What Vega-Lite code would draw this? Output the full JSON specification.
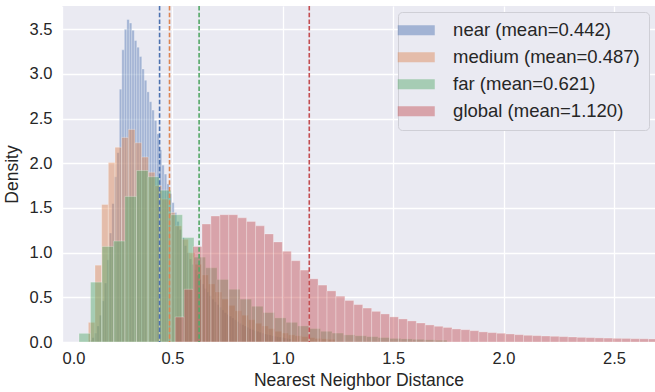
{
  "$schema": "https://vega.github.io/schema/vega-lite/v6.json",
  "autosize": "none",
  "width": 593,
  "height": 336,
  "padding": {"left": 62, "top": 6, "right": 0, "bottom": 50},
  "background": "white",
  "datasets": {
    "bars": [
      {"s":"near","a":0.1241,"b":0.1354,"d":0.02},
      {"s":"near","a":0.1354,"b":0.1467,"d":0.05},
      {"s":"near","a":0.1467,"b":0.1580,"d":0.10},
      {"s":"near","a":0.1580,"b":0.1693,"d":0.18},
      {"s":"near","a":0.1693,"b":0.1806,"d":0.30},
      {"s":"near","a":0.1806,"b":0.1919,"d":0.46},
      {"s":"near","a":0.1919,"b":0.2032,"d":0.66},
      {"s":"near","a":0.2032,"b":0.2145,"d":0.92},
      {"s":"near","a":0.2145,"b":0.2258,"d":1.22},
      {"s":"near","a":0.2258,"b":0.2371,"d":1.55},
      {"s":"near","a":0.2371,"b":0.2484,"d":1.85},
      {"s":"near","a":0.2484,"b":0.2597,"d":2.12},
      {"s":"near","a":0.2597,"b":0.2710,"d":2.83},
      {"s":"near","a":0.2710,"b":0.2823,"d":3.27},
      {"s":"near","a":0.2823,"b":0.2936,"d":3.50},
      {"s":"near","a":0.2936,"b":0.3049,"d":3.61},
      {"s":"near","a":0.3049,"b":0.3162,"d":3.57},
      {"s":"near","a":0.3162,"b":0.3275,"d":3.49},
      {"s":"near","a":0.3275,"b":0.3388,"d":3.375},
      {"s":"near","a":0.3388,"b":0.3501,"d":3.30},
      {"s":"near","a":0.3501,"b":0.3614,"d":3.195},
      {"s":"near","a":0.3614,"b":0.3727,"d":3.056},
      {"s":"near","a":0.3727,"b":0.3840,"d":2.93},
      {"s":"near","a":0.3840,"b":0.3953,"d":2.80},
      {"s":"near","a":0.3953,"b":0.4066,"d":2.69},
      {"s":"near","a":0.4066,"b":0.4179,"d":2.596},
      {"s":"near","a":0.4179,"b":0.4292,"d":2.48},
      {"s":"near","a":0.4292,"b":0.4405,"d":2.33},
      {"s":"near","a":0.4405,"b":0.4518,"d":2.15},
      {"s":"near","a":0.4518,"b":0.4631,"d":1.98},
      {"s":"near","a":0.4631,"b":0.4744,"d":1.88},
      {"s":"near","a":0.4744,"b":0.4857,"d":1.77},
      {"s":"near","a":0.4857,"b":0.4970,"d":1.66},
      {"s":"near","a":0.4970,"b":0.5083,"d":1.56},
      {"s":"near","a":0.5083,"b":0.5196,"d":1.45},
      {"s":"near","a":0.5196,"b":0.5309,"d":1.35},
      {"s":"near","a":0.5309,"b":0.5422,"d":1.26},
      {"s":"near","a":0.5422,"b":0.5535,"d":1.17},
      {"s":"near","a":0.5535,"b":0.5648,"d":1.08},
      {"s":"near","a":0.5648,"b":0.5761,"d":1.00},
      {"s":"near","a":0.5761,"b":0.5874,"d":0.93},
      {"s":"near","a":0.5874,"b":0.5987,"d":0.87},
      {"s":"near","a":0.5987,"b":0.6100,"d":0.81},
      {"s":"near","a":0.6100,"b":0.6213,"d":0.75},
      {"s":"near","a":0.6213,"b":0.6326,"d":0.70},
      {"s":"near","a":0.6326,"b":0.6439,"d":0.65},
      {"s":"near","a":0.6439,"b":0.6552,"d":0.60},
      {"s":"near","a":0.6552,"b":0.6665,"d":0.56},
      {"s":"near","a":0.6665,"b":0.6778,"d":0.52},
      {"s":"near","a":0.6778,"b":0.6891,"d":0.48},
      {"s":"near","a":0.6891,"b":0.7004,"d":0.45},
      {"s":"near","a":0.7004,"b":0.7117,"d":0.42},
      {"s":"near","a":0.7117,"b":0.7230,"d":0.39},
      {"s":"near","a":0.7230,"b":0.7343,"d":0.36},
      {"s":"near","a":0.7343,"b":0.7456,"d":0.33},
      {"s":"near","a":0.7456,"b":0.7569,"d":0.31},
      {"s":"near","a":0.7569,"b":0.7682,"d":0.29},
      {"s":"near","a":0.7682,"b":0.7795,"d":0.27},
      {"s":"near","a":0.7795,"b":0.7908,"d":0.25},
      {"s":"near","a":0.7908,"b":0.8021,"d":0.23},
      {"s":"near","a":0.8021,"b":0.8134,"d":0.21},
      {"s":"near","a":0.8134,"b":0.8247,"d":0.195},
      {"s":"near","a":0.8247,"b":0.8360,"d":0.18},
      {"s":"near","a":0.8360,"b":0.8473,"d":0.165},
      {"s":"near","a":0.8473,"b":0.8586,"d":0.15},
      {"s":"near","a":0.8586,"b":0.8699,"d":0.14},
      {"s":"near","a":0.8699,"b":0.8812,"d":0.13},
      {"s":"near","a":0.8812,"b":0.8925,"d":0.12},
      {"s":"near","a":0.8925,"b":0.9038,"d":0.11},
      {"s":"near","a":0.9038,"b":0.9151,"d":0.10},
      {"s":"near","a":0.9151,"b":0.9264,"d":0.09},
      {"s":"near","a":0.9264,"b":0.9377,"d":0.085},
      {"s":"near","a":0.9377,"b":0.9490,"d":0.08},
      {"s":"near","a":0.9490,"b":0.9603,"d":0.07},
      {"s":"near","a":0.9603,"b":0.9716,"d":0.065},
      {"s":"near","a":0.9716,"b":0.9829,"d":0.06},
      {"s":"near","a":0.9829,"b":0.9942,"d":0.055},
      {"s":"near","a":0.9942,"b":1.0055,"d":0.05},
      {"s":"near","a":1.0055,"b":1.0168,"d":0.045},
      {"s":"near","a":1.0168,"b":1.0281,"d":0.04},
      {"s":"near","a":1.0281,"b":1.0394,"d":0.035},

      {"s":"medium","a":0.1192,"b":0.1494,"d":0.22},
      {"s":"medium","a":0.1494,"b":0.1796,"d":0.86},
      {"s":"medium","a":0.1796,"b":0.2098,"d":1.54},
      {"s":"medium","a":0.2098,"b":0.2400,"d":2.01},
      {"s":"medium","a":0.2400,"b":0.2702,"d":2.18},
      {"s":"medium","a":0.2702,"b":0.3004,"d":2.29},
      {"s":"medium","a":0.3004,"b":0.3306,"d":2.38},
      {"s":"medium","a":0.3306,"b":0.3608,"d":2.23},
      {"s":"medium","a":0.3608,"b":0.3910,"d":2.07},
      {"s":"medium","a":0.3910,"b":0.4212,"d":1.90},
      {"s":"medium","a":0.4212,"b":0.4514,"d":1.75},
      {"s":"medium","a":0.4514,"b":0.4816,"d":1.60},
      {"s":"medium","a":0.4816,"b":0.5118,"d":1.45},
      {"s":"medium","a":0.5118,"b":0.5420,"d":1.30},
      {"s":"medium","a":0.5420,"b":0.5722,"d":1.15},
      {"s":"medium","a":0.5722,"b":0.6024,"d":1.00},
      {"s":"medium","a":0.6024,"b":0.6326,"d":0.87},
      {"s":"medium","a":0.6326,"b":0.6628,"d":0.75},
      {"s":"medium","a":0.6628,"b":0.6930,"d":0.65},
      {"s":"medium","a":0.6930,"b":0.7232,"d":0.56},
      {"s":"medium","a":0.7232,"b":0.7534,"d":0.48},
      {"s":"medium","a":0.7534,"b":0.7836,"d":0.41},
      {"s":"medium","a":0.7836,"b":0.8138,"d":0.35},
      {"s":"medium","a":0.8138,"b":0.8440,"d":0.30},
      {"s":"medium","a":0.8440,"b":0.8742,"d":0.25},
      {"s":"medium","a":0.8742,"b":0.9044,"d":0.21},
      {"s":"medium","a":0.9044,"b":0.9346,"d":0.18},
      {"s":"medium","a":0.9346,"b":0.9648,"d":0.15},
      {"s":"medium","a":0.9648,"b":0.9950,"d":0.12},
      {"s":"medium","a":0.9950,"b":1.0252,"d":0.10},
      {"s":"medium","a":1.0252,"b":1.0554,"d":0.08},
      {"s":"medium","a":1.0554,"b":1.0856,"d":0.07},
      {"s":"medium","a":1.0856,"b":1.1158,"d":0.06},
      {"s":"medium","a":1.1158,"b":1.1460,"d":0.05},
      {"s":"medium","a":1.1460,"b":1.1762,"d":0.04},
      {"s":"medium","a":1.1762,"b":1.2064,"d":0.035},
      {"s":"medium","a":1.2064,"b":1.2366,"d":0.03},

      {"s":"far","a":0.0770,"b":0.1291,"d":0.097},
      {"s":"far","a":0.1291,"b":0.1812,"d":0.67},
      {"s":"far","a":0.1812,"b":0.2333,"d":1.07},
      {"s":"far","a":0.2333,"b":0.2854,"d":1.13},
      {"s":"far","a":0.2854,"b":0.3375,"d":1.63},
      {"s":"far","a":0.3375,"b":0.3896,"d":1.92},
      {"s":"far","a":0.3896,"b":0.4417,"d":1.85},
      {"s":"far","a":0.4417,"b":0.4938,"d":1.70},
      {"s":"far","a":0.4938,"b":0.5459,"d":1.425},
      {"s":"far","a":0.5459,"b":0.5980,"d":1.17},
      {"s":"far","a":0.5980,"b":0.6501,"d":0.95},
      {"s":"far","a":0.6501,"b":0.7022,"d":0.83},
      {"s":"far","a":0.7022,"b":0.7543,"d":0.70},
      {"s":"far","a":0.7543,"b":0.8064,"d":0.59},
      {"s":"far","a":0.8064,"b":0.8585,"d":0.48},
      {"s":"far","a":0.8585,"b":0.9106,"d":0.40},
      {"s":"far","a":0.9106,"b":0.9627,"d":0.33},
      {"s":"far","a":0.9627,"b":1.0148,"d":0.27},
      {"s":"far","a":1.0148,"b":1.0669,"d":0.22},
      {"s":"far","a":1.0669,"b":1.1190,"d":0.18},
      {"s":"far","a":1.1190,"b":1.1711,"d":0.15},
      {"s":"far","a":1.1711,"b":1.2232,"d":0.12},
      {"s":"far","a":1.2232,"b":1.2753,"d":0.10},
      {"s":"far","a":1.2753,"b":1.3274,"d":0.08},
      {"s":"far","a":1.3274,"b":1.3795,"d":0.07},
      {"s":"far","a":1.3795,"b":1.4316,"d":0.06},
      {"s":"far","a":1.4316,"b":1.4837,"d":0.05},
      {"s":"far","a":1.4837,"b":1.5358,"d":0.04},
      {"s":"far","a":1.5358,"b":1.5879,"d":0.035},
      {"s":"far","a":1.5879,"b":1.6400,"d":0.03},
      {"s":"far","a":1.6400,"b":1.6921,"d":0.025},
      {"s":"far","a":1.6921,"b":1.7442,"d":0.02},

      {"s":"global","a":0.5127,"b":0.5532,"d":0.28},
      {"s":"global","a":0.5532,"b":0.5936,"d":0.59},
      {"s":"global","a":0.5936,"b":0.6341,"d":1.07},
      {"s":"global","a":0.6341,"b":0.6745,"d":1.32},
      {"s":"global","a":0.6745,"b":0.7150,"d":1.41},
      {"s":"global","a":0.7150,"b":0.7554,"d":1.425},
      {"s":"global","a":0.7554,"b":0.7959,"d":1.425},
      {"s":"global","a":0.7959,"b":0.8363,"d":1.39},
      {"s":"global","a":0.8363,"b":0.8768,"d":1.35},
      {"s":"global","a":0.8768,"b":0.9172,"d":1.30},
      {"s":"global","a":0.9172,"b":0.9577,"d":1.21},
      {"s":"global","a":0.9577,"b":0.9981,"d":1.12},
      {"s":"global","a":0.9981,"b":1.0386,"d":1.015},
      {"s":"global","a":1.0386,"b":1.0790,"d":0.91},
      {"s":"global","a":1.0790,"b":1.1195,"d":0.805},
      {"s":"global","a":1.1195,"b":1.1599,"d":0.707},
      {"s":"global","a":1.1599,"b":1.2004,"d":0.637},
      {"s":"global","a":1.2004,"b":1.2408,"d":0.572},
      {"s":"global","a":1.2408,"b":1.2813,"d":0.513},
      {"s":"global","a":1.2813,"b":1.3217,"d":0.465},
      {"s":"global","a":1.3217,"b":1.3622,"d":0.419},
      {"s":"global","a":1.3622,"b":1.4026,"d":0.38},
      {"s":"global","a":1.4026,"b":1.4431,"d":0.343},
      {"s":"global","a":1.4431,"b":1.4835,"d":0.314},
      {"s":"global","a":1.4835,"b":1.5240,"d":0.281},
      {"s":"global","a":1.5240,"b":1.5644,"d":0.258},
      {"s":"global","a":1.5644,"b":1.6049,"d":0.236},
      {"s":"global","a":1.6049,"b":1.6453,"d":0.213},
      {"s":"global","a":1.6453,"b":1.6858,"d":0.191},
      {"s":"global","a":1.6858,"b":1.7262,"d":0.176},
      {"s":"global","a":1.7262,"b":1.7667,"d":0.163},
      {"s":"global","a":1.7667,"b":1.8071,"d":0.146},
      {"s":"global","a":1.8071,"b":1.8476,"d":0.138},
      {"s":"global","a":1.8476,"b":1.8880,"d":0.127},
      {"s":"global","a":1.8880,"b":1.9285,"d":0.113},
      {"s":"global","a":1.9285,"b":1.9689,"d":0.105},
      {"s":"global","a":1.9689,"b":2.0094,"d":0.098},
      {"s":"global","a":2.0094,"b":2.0498,"d":0.09},
      {"s":"global","a":2.0498,"b":2.0903,"d":0.082},
      {"s":"global","a":2.0903,"b":2.1307,"d":0.075},
      {"s":"global","a":2.1307,"b":2.1712,"d":0.071},
      {"s":"global","a":2.1712,"b":2.2116,"d":0.067},
      {"s":"global","a":2.2116,"b":2.2521,"d":0.064},
      {"s":"global","a":2.2521,"b":2.2925,"d":0.06},
      {"s":"global","a":2.2925,"b":2.3330,"d":0.056},
      {"s":"global","a":2.3330,"b":2.3734,"d":0.052},
      {"s":"global","a":2.3734,"b":2.4139,"d":0.049},
      {"s":"global","a":2.4139,"b":2.4543,"d":0.046},
      {"s":"global","a":2.4543,"b":2.4948,"d":0.044},
      {"s":"global","a":2.4948,"b":2.5352,"d":0.041},
      {"s":"global","a":2.5352,"b":2.5757,"d":0.04},
      {"s":"global","a":2.5757,"b":2.6161,"d":0.037},
      {"s":"global","a":2.6161,"b":2.6566,"d":0.036},
      {"s":"global","a":2.6566,"b":2.6970,"d":0.034},
      {"s":"global","a":2.6970,"b":2.7375,"d":0.033}
    ],
    "means": [
      {"s":"near","m":0.442},
      {"s":"medium","m":0.487},
      {"s":"far","m":0.621},
      {"s":"global","m":1.120}
    ]
  },
  "layer": [
    {
      "data": {"name": "bars"},
      "mark": {"type": "bar", "fillOpacity": 0.45, "stroke": "#ffffff", "strokeWidth": 0.6, "strokeOpacity": 0.45, "clip": true},
      "encoding": {
        "x": {"field": "a", "type": "quantitative",
              "scale": {"domain": [0, 2.686], "nice": false, "zero": false},
              "axis": {"values": [0, 0.5, 1, 1.5, 2, 2.5], "format": ".1f", "title": "Nearest Neighbor Distance", "labelPadding": 8, "titlePadding": 5}},
        "x2": {"field": "b"},
        "y": {"field": "d", "type": "quantitative",
              "scale": {"domain": [0, 3.761], "nice": false},
              "axis": {"values": [0, 0.5, 1, 1.5, 2, 2.5, 3, 3.5], "format": ".1f", "title": "Density", "labelPadding": 10, "titlePadding": 8}},
        "y2": {"datum": 0},
        "color": {"field": "s", "type": "nominal",
                  "scale": {"domain": ["near", "medium", "far", "global"], "range": ["#4C72B0", "#DD8452", "#55A868", "#C44E52"]},
                  "legend": {
                    "title": null,
                    "orient": "top-right",
                    "offset": 6,
                    "labelExpr": "datum.label == 'near' ? 'near (mean=0.442)' : datum.label == 'medium' ? 'medium (mean=0.487)' : datum.label == 'far' ? 'far (mean=0.621)' : 'global (mean=1.120)'",
                    "labelLimit": 400,
                    "symbolType": "M-2.7,-0.73L2.7,-0.73L2.7,0.73L-2.7,0.73Z",
                    "symbolSize": 188,
                    "symbolOpacity": 0.45,
                    "symbolStrokeWidth": 0,
                    "labelFont": "Liberation Sans",
                    "labelFontSize": 18.5,
                    "labelColor": "#262626",
                    "labelOffset": 27.6,
                    "rowPadding": 8,
                    "padding": 9,
                    "fillColor": "#EAEAF2",
                    "strokeColor": "#cfcfd6",
                    "cornerRadius": 4
                  }}
      }
    },
    {
      "data": {"name": "means"},
      "mark": {"type": "rule", "strokeDash": [4.5, 2.2], "strokeWidth": 1.6},
      "encoding": {
        "x": {"field": "m", "type": "quantitative"},
        "color": {"field": "s", "type": "nominal", "legend": null}
      }
    }
  ],
  "config": {
    "view": {"fill": "#EAEAF2", "stroke": null},
    "axis": {
      "grid": true,
      "gridColor": "#ffffff",
      "gridWidth": 1.3,
      "domain": false,
      "ticks": false,
      "labelFont": "Liberation Sans",
      "labelFontSize": 16.5,
      "labelColor": "#262626",
      "titleFont": "Liberation Sans",
      "titleFontSize": 17.5,
      "titleFontWeight": "normal",
      "titleColor": "#262626"
    }
  }
}
